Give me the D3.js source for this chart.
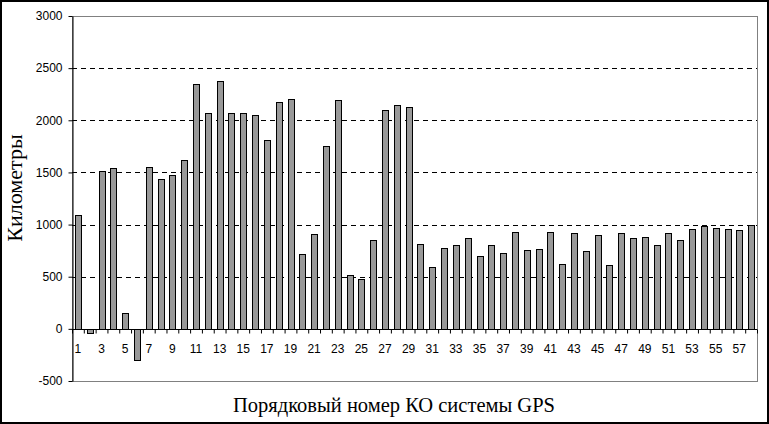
<!DOCTYPE html>
<html>
<head>
<meta charset="utf-8">
<script src="https://cdn.jsdelivr.net/npm/d3@7"></script>
<style>
  body { margin: 0; background: #fff; }
  svg { display: block; }
  .tick text { font-family: "Liberation Sans", Arial, sans-serif; font-size: 12px; fill: #000; }
  .title { font-family: "Liberation Serif", "Times New Roman", serif; fill: #000; }
</style>
</head>
<body>
<div class="chart"></div>
<script>
// satellite numbers 1..58
const satellites = d3.range(1, 59);
// distance, km
const distances = [
  1090, -40, 1510, 1540, 155, -300, 1555, 1440, 1480, 1620,
  2350, 2070, 2380, 2070, 2070, 2055, 1810, 2175, 2200, 720,
  910, 1755, 2190, 515, 475, 850, 2100, 2150, 2125, 810,
  595, 775, 805, 875, 700, 805, 730, 925, 755, 770,
  925, 625, 920, 745, 900, 610, 915, 875, 880, 805,
  915, 850, 955, 990, 970, 955, 945, 1000
];
const yTicks = [-500, 0, 500, 1000, 1500, 2000, 2500, 3000];
const xLabels = satellites.filter((d) => d % 2 === 1);

const w = 769;
const h = 424;
const plot = { left: 72, top: 16, right: 757, bottom: 381 };

const svg = d3.select('.chart')
  .append('svg')
  .attr('width', w)
  .attr('height', h);

// outer frame
svg.append('rect')
  .attr('x', 1).attr('y', 1)
  .attr('width', w - 2).attr('height', h - 2)
  .attr('fill', '#fff')
  .attr('stroke', '#000')
  .attr('stroke-width', 2);

const xScale = d3.scaleBand()
  .domain(satellites)
  .range([plot.left, plot.right])
  .paddingInner(0.5)
  .paddingOuter(0.25);

const xEdge = d3.scaleLinear()
  .domain([0, satellites.length])
  .range([plot.left, plot.right]);

const yScale = d3.scaleLinear()
  .domain([-500, 3000])
  .range([plot.bottom, plot.top]);

// plot area border
svg.append('rect')
  .attr('x', plot.left + 0.5).attr('y', plot.top + 0.5)
  .attr('width', plot.right - plot.left).attr('height', plot.bottom - plot.top)
  .attr('fill', 'none')
  .attr('stroke', '#808080');

// dashed gridlines
svg.append('g')
  .selectAll('line')
  .data(yTicks.filter((d) => d > 0 && d < 3000))
  .enter()
  .append('line')
  .attr('x1', plot.left)
  .attr('x2', plot.right)
  .attr('y1', (d) => Math.round(yScale(d)) + 0.5)
  .attr('y2', (d) => Math.round(yScale(d)) + 0.5)
  .attr('stroke', '#000')
  .attr('stroke-dasharray', '5,4');

svg.selectAll('rect.bar')
  .data(distances)
  .enter()
  .append('rect')
  .attr('class', 'bar')
  .attr('x', (d, i) => Math.round(xScale(satellites[i])) + 0.5)
  .attr('y', (d) => Math.round(yScale(Math.max(0, d))) + 0.5)
  .attr('width', Math.round(xScale.bandwidth()))
  .attr('height', (d) => Math.abs(Math.round(yScale(d)) - Math.round(yScale(0))))
  .attr('fill', '#999999')
  .attr('stroke', '#000');

// y axis
const yAxis = svg.append('g')
  .attr('transform', `translate(${plot.left + 0.5}, 0)`)
  .call(d3.axisLeft(yScale).tickValues(yTicks).tickFormat((d) => String(d))
    .tickSize(4).tickPadding(6).tickSizeOuter(0));
yAxis.select('.domain').attr('stroke', '#000');

// x axis: boundary ticks
svg.append('g')
  .attr('transform', `translate(0, ${Math.round(yScale(0)) + 0.5})`)
  .call(d3.axisBottom(xEdge).tickValues(d3.range(satellites.length + 1)).tickSize(4).tickFormat(''))
  .select('.domain').remove();

svg.append('line')
  .attr('x1', plot.left)
  .attr('x2', plot.right)
  .attr('y1', Math.round(yScale(0)) + 0.5)
  .attr('y2', Math.round(yScale(0)) + 0.5)
  .attr('stroke', '#000');

// x axis: labels on odd numbers
const xAxis = svg.append('g')
  .attr('transform', `translate(0, ${Math.round(yScale(0))})`)
  .call(d3.axisBottom(xScale).tickValues(xLabels).tickSize(0).tickPadding(15));
xAxis.select('.domain').remove();

svg.append('text')
  .attr('class', 'title')
  .attr('x', 394)
  .attr('y', 412)
  .attr('text-anchor', 'middle')
  .style('font-size', '20.5px')
  .text('Порядковый номер КО системы GPS');

svg.append('text')
  .attr('class', 'title')
  .attr('transform', 'translate(22, 188) rotate(-90)')
  .attr('text-anchor', 'middle')
  .style('font-size', '22px')
  .text('Километры');
</script>
</body>
</html>
